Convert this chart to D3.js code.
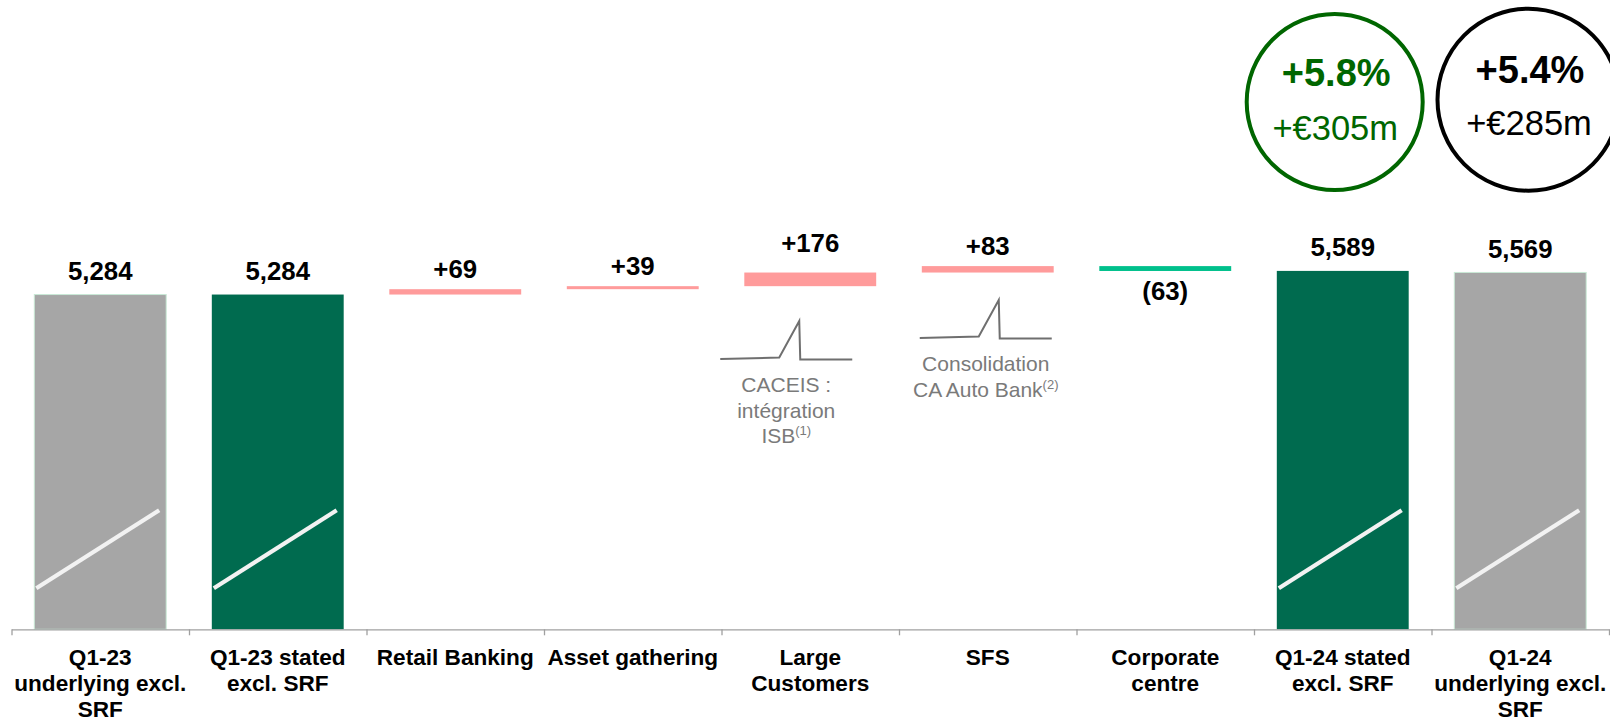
<!DOCTYPE html>
<html>
<head>
<meta charset="utf-8">
<script src="https://cdn.jsdelivr.net/npm/d3@7"></script>
<style>
  html, body { margin: 0; padding: 0; background: #fff; }
  svg { display: block; font-family: "Liberation Sans", Arial, Helvetica, sans-serif; }
</style>
</head>
<body>
<svg id="chart" width="1610" height="721"></svg>
<script>
// ---------- data ----------
const categories = [
  "Q1-23 underlying excl. SRF", "Q1-23 stated excl. SRF", "Retail Banking",
  "Asset gathering", "Large Customers", "SFS", "Corporate centre",
  "Q1-24 stated excl. SRF", "Q1-24 underlying excl. SRF"
];
const tickLabels = [
  ["Q1-23", "underlying excl.", "SRF"],
  ["Q1-23 stated", "excl. SRF"],
  ["Retail Banking"],
  ["Asset gathering"],
  ["Large", "Customers"],
  ["SFS"],
  ["Corporate", "centre"],
  ["Q1-24 stated", "excl. SRF"],
  ["Q1-24", "underlying excl.", "SRF"]
];
const values = [5284, 5284, 69, 39, 176, 83, -63, 5589, 5569];
const kinds = ["underlying", "stated", "delta", "delta", "delta", "delta", "delta", "stated", "underlying"];
const valueLabels = ["5,284", "5,284", "+69", "+39", "+176", "+83", "(63)", "5,589", "5,569"];
const growthPct = ["+5.8%", "+5.4%"];
const growthAbs = ["+€305m", "+€285m"];
const notes = [
  { category: "Large Customers", lines: ["CACEIS :", "intégration", "ISB"], sup: "(1)" },
  { category: "SFS", lines: ["Consolidation", "CA Auto Bank"], sup: "(2)" }
];
const axisFloor = 964;   // broken-axis baseline value

// ---------- layout ----------
const svg = d3.select("#chart");
const baseY = 629.3;
const x = d3.scaleBand().domain(categories).range([11.5, 1609])
  .paddingInner(0.257).paddingOuter(0.1285);
const y = d3.scaleLinear().domain([axisFloor, 5651]).range([baseY, 266.1]);

const colors = { underlying: "#a6a6a6", stated: "#006b4f", up: "#ff9b9b", down: "#00c08c" };

// waterfall computation
let running = 0;
const bars = categories.map((c, i) => {
  const v = values[i];
  let y0, y1, kind = kinds[i];
  if (kind !== "delta") {
    y0 = axisFloor; y1 = v;
    if (i <= 1) running = v;
  } else {
    y0 = running; y1 = running + v; running = y1;
  }
  return { c, i, v, kind, lo: Math.min(y0, y1), hi: Math.max(y0, y1), label: valueLabels[i] };
});

// bars
svg.append("g").selectAll("rect").data(bars).join("rect")
  .attr("x", d => x(d.c))
  .attr("width", x.bandwidth())
  .attr("y", d => y(d.hi))
  .attr("height", d => Math.max(1, y(d.lo) - y(d.hi)))
  .attr("fill", d => d.kind === "delta" ? (d.v >= 0 ? colors.up : colors.down) : colors[d.kind])
  .attr("stroke", d => d.kind === "underlying" ? "#c9e9d6" : "none")
  .attr("stroke-width", 1);

// axis-break slashes on total bars
svg.append("g").selectAll("line").data(bars.filter(d => d.kind !== "delta")).join("line")
  .attr("x1", d => x(d.c) + 2)
  .attr("x2", d => x(d.c) + x.bandwidth() - 7)
  .attr("y1", baseY - 41)
  .attr("y2", baseY - 119)
  .attr("stroke", "#f2f2f2")
  .attr("stroke-width", 4.2);

// value labels
const nudge = { "Large Customers": -10 };
svg.append("g").selectAll("text").data(bars).join("text")
  .attr("x", d => x(d.c) + x.bandwidth() / 2)
  .attr("y", d => {
    if (d.kind !== "delta") return y(d.hi) - 14.5;
    if (d.v < 0) return y(d.lo) + 29;
    return y(d.hi) - 11 + (nudge[d.c] || 0);
  })
  .attr("text-anchor", "middle")
  .attr("font-weight", "bold")
  .attr("font-size", 25.8)
  .attr("fill", "#000")
  .text(d => d.label);

// axis with boundary ticks
const edges = categories.map(c => x(c) - (x.step() - x.bandwidth()) / 2).concat([x.range()[1]]);
const edgeScale = d3.scaleLinear().domain(x.range()).range(x.range());
const gAxis = svg.append("g").attr("transform", `translate(0,${baseY})`)
  .call(d3.axisBottom(edgeScale).tickValues(edges).tickFormat("").tickSize(6).tickSizeOuter(0));
gAxis.selectAll("path,line").attr("stroke", "#a0a0a0").attr("stroke-width", 1.3);

// category labels
const gCat = svg.append("g").attr("transform", `translate(0,${baseY})`)
  .call(d3.axisBottom(x).tickSize(0).tickFormat(""));
gCat.select(".domain").remove();
gCat.selectAll(".tick").each(function(d, i) {
  const t = d3.select(this).append("text")
    .attr("text-anchor", "middle")
    .attr("font-weight", "bold")
    .attr("font-size", 22.6)
    .attr("fill", "#000");
  tickLabels[i].forEach((ln, j) => {
    t.append("tspan").attr("x", 0).attr("y", 35.7 + j * 26).text(ln);
  });
});

// annotations with spike glyph
const noteOffset = { "Large Customers": -24, "SFS": -2 };
const noteBase = { "Large Customers": 359, "SFS": 338 };
notes.forEach(n => {
  const cx = x(n.category) + x.bandwidth() / 2 + noteOffset[n.category];
  const by = noteBase[n.category];
  const x0 = cx - 66;
  const pts = [[x0, by], [x0 + 59, by - 1.5], [x0 + 79, by - 38], [x0 + 80, by + 0.5], [x0 + 132, by + 0.5]];
  svg.append("path")
    .attr("d", d3.line()(pts))
    .attr("fill", "none")
    .attr("stroke", "#6f6f6f")
    .attr("stroke-width", 2);
  const t = svg.append("text")
    .attr("text-anchor", "middle")
    .attr("font-size", 21)
    .attr("fill", "#7a7a7a");
  n.lines.forEach((ln, j) => {
    const ts = t.append("tspan").attr("x", cx).attr("y", by + 33 + j * 25.5).text(ln);
    if (j === n.lines.length - 1) {
      ts.append("tspan").attr("font-size", 13).attr("dy", -8).text(n.sup);
    }
  });
});

// growth circles
const circles = [
  { cx: 1334.7, cy: 102, r: 88, color: "#006600", pct: growthPct[0], abs: growthAbs[0], pctY: 86, absY: 140 },
  { cx: 1528.5, cy: 99.7, r: 91, color: "#000000", pct: growthPct[1], abs: growthAbs[1], pctY: 83.3, absY: 135 }
];
const gc = svg.append("g").selectAll("g").data(circles).join("g");
gc.append("circle")
  .attr("cx", d => d.cx).attr("cy", d => d.cy).attr("r", d => d.r)
  .attr("fill", "none").attr("stroke", d => d.color).attr("stroke-width", 4);
gc.append("text")
  .attr("x", d => d.cx + 1.5).attr("y", d => d.pctY)
  .attr("text-anchor", "middle").attr("font-weight", "bold").attr("font-size", 38)
  .attr("fill", d => d.color).text(d => d.pct);
gc.append("text")
  .attr("x", d => d.cx + 0.5).attr("y", d => d.absY)
  .attr("text-anchor", "middle").attr("font-size", 34.5)
  .attr("fill", d => d.color).text(d => d.abs);
</script>
</body>
</html>
